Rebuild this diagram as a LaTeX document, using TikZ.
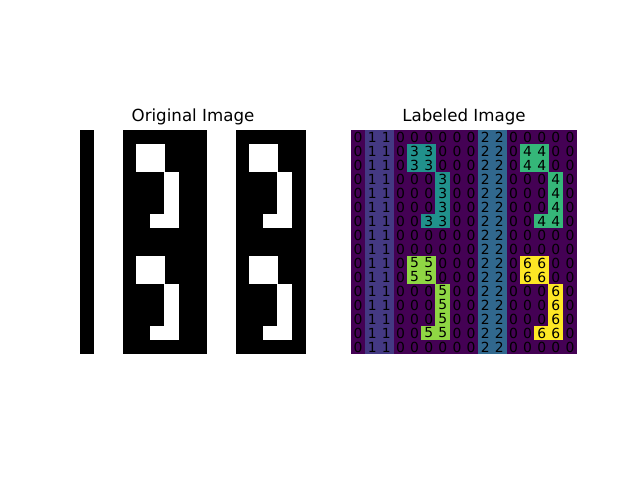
\documentclass[tikz,border=0pt]{standalone}
\usepackage{fontspec}
\setmainfont{DejaVu Sans}
\definecolor{lab0}{HTML}{440154}
\definecolor{lab1}{HTML}{443983}
\definecolor{lab2}{HTML}{31688E}
\definecolor{lab3}{HTML}{21918C}
\definecolor{lab4}{HTML}{35B779}
\definecolor{lab5}{HTML}{8FD744}
\definecolor{lab6}{HTML}{FDE725}
\tikzset{
  titletext/.style={anchor=base, font=\fontsize{12}{14}\selectfont},
  celltext/.style={inner sep=0pt, font=\fontsize{10}{12}\selectfont, text=black},
}
\begin{document}
\begin{tikzpicture}[x=0.72pt, y=-0.72pt]
    \useasboundingbox[fill=white] (0,0) rectangle (640,480);
    \def\cw{14.125}
    \def\ch{14}

    % Titles
    \node[titletext] (origtitle) at (193,121.7) {Original Image};
    \node[titletext] (labtitle) at (464,121.7) {Labeled Image};

    % Backgrounds
    \fill[black] (80,130) rectangle (306,354);
    \fill[lab0] (351,130) rectangle (577,354);

    % Pixel grid and labels
    \foreach \row [count=\r from 0] in {
        {0,1,1,0,0,0,0,0,0,2,2,0,0,0,0,0},
        {0,1,1,0,3,3,0,0,0,2,2,0,4,4,0,0},
        {0,1,1,0,3,3,0,0,0,2,2,0,4,4,0,0},
        {0,1,1,0,0,0,3,0,0,2,2,0,0,0,4,0},
        {0,1,1,0,0,0,3,0,0,2,2,0,0,0,4,0},
        {0,1,1,0,0,0,3,0,0,2,2,0,0,0,4,0},
        {0,1,1,0,0,3,3,0,0,2,2,0,0,4,4,0},
        {0,1,1,0,0,0,0,0,0,2,2,0,0,0,0,0},
        {0,1,1,0,0,0,0,0,0,2,2,0,0,0,0,0},
        {0,1,1,0,5,5,0,0,0,2,2,0,6,6,0,0},
        {0,1,1,0,5,5,0,0,0,2,2,0,6,6,0,0},
        {0,1,1,0,0,0,5,0,0,2,2,0,0,0,6,0},
        {0,1,1,0,0,0,5,0,0,2,2,0,0,0,6,0},
        {0,1,1,0,0,0,5,0,0,2,2,0,0,0,6,0},
        {0,1,1,0,0,5,5,0,0,2,2,0,0,6,6,0},
        {0,1,1,0,0,0,0,0,0,2,2,0,0,0,0,0}} {
        \foreach \v [count=\c from 0] in \row {
            \ifnum\v>0
                \begin{scope}
                    \clip (80,130) rectangle (306,354);
                    \fill[white] (80+\c*\cw-0.4,130+\r*\ch-0.4) rectangle ++(\cw+0.8,\ch+0.8);
                \end{scope}
                \begin{scope}
                    \clip (351,130) rectangle (577,354);
                    \fill[lab\v] (351+\c*\cw-0.4,130+\r*\ch-0.4) rectangle ++(\cw+0.8,\ch+0.8);
                \end{scope}
            \fi
        }
    }
    \foreach \row [count=\r from 0] in {
        {0,1,1,0,0,0,0,0,0,2,2,0,0,0,0,0},
        {0,1,1,0,3,3,0,0,0,2,2,0,4,4,0,0},
        {0,1,1,0,3,3,0,0,0,2,2,0,4,4,0,0},
        {0,1,1,0,0,0,3,0,0,2,2,0,0,0,4,0},
        {0,1,1,0,0,0,3,0,0,2,2,0,0,0,4,0},
        {0,1,1,0,0,0,3,0,0,2,2,0,0,0,4,0},
        {0,1,1,0,0,3,3,0,0,2,2,0,0,4,4,0},
        {0,1,1,0,0,0,0,0,0,2,2,0,0,0,0,0},
        {0,1,1,0,0,0,0,0,0,2,2,0,0,0,0,0},
        {0,1,1,0,5,5,0,0,0,2,2,0,6,6,0,0},
        {0,1,1,0,5,5,0,0,0,2,2,0,6,6,0,0},
        {0,1,1,0,0,0,5,0,0,2,2,0,0,0,6,0},
        {0,1,1,0,0,0,5,0,0,2,2,0,0,0,6,0},
        {0,1,1,0,0,0,5,0,0,2,2,0,0,0,6,0},
        {0,1,1,0,0,5,5,0,0,2,2,0,0,6,6,0},
        {0,1,1,0,0,0,0,0,0,2,2,0,0,0,0,0}} {
        \foreach \v [count=\c from 0] in \row {
            \node[celltext] (lab-\r-\c) at (351+\c*\cw+0.5*\cw,130+\r*\ch+0.5*\ch) {\v};
        }
    }
\end{tikzpicture}
\end{document}
